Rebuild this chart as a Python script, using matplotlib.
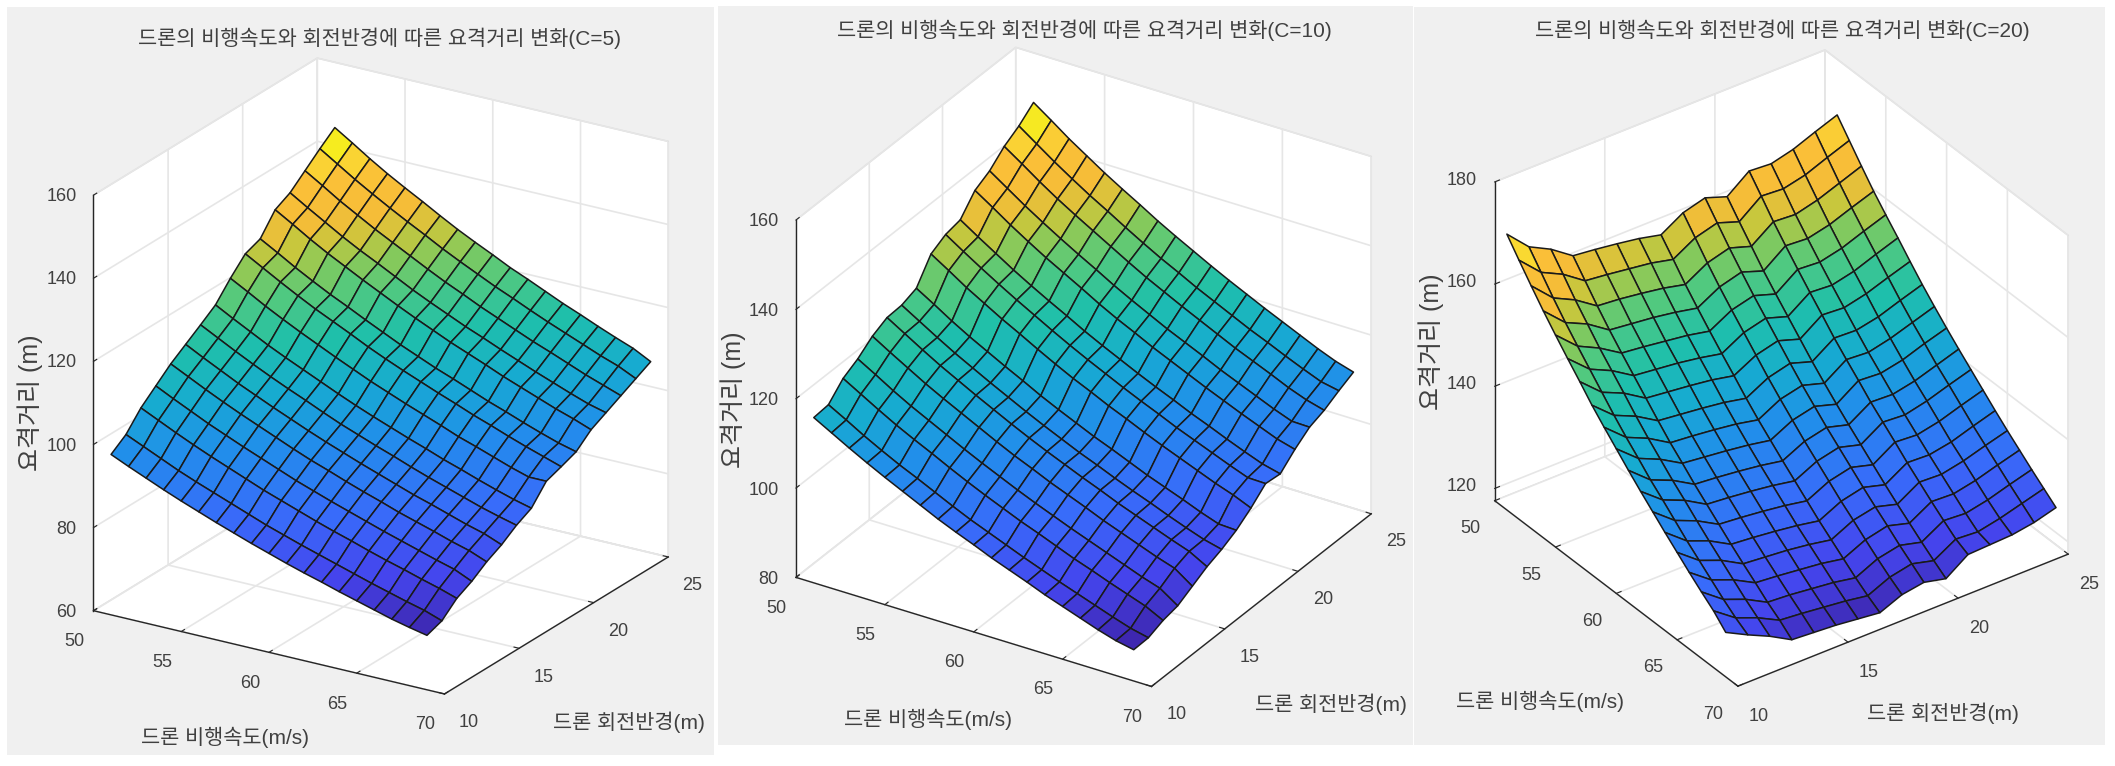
import numpy as np
import matplotlib
matplotlib.use("Agg")
import matplotlib.pyplot as plt
from matplotlib.colors import LinearSegmentedColormap
from matplotlib.patches import Rectangle
from mpl_toolkits.mplot3d import proj3d

plt.rcParams['font.family'] = ['Liberation Sans', 'Noto Sans CJK KR']

W, H = 2115, 766

speed = [51, 52, 53, 54, 55, 56, 57, 58, 59, 60, 61, 62, 63, 64, 65, 66, 67, 68, 69]
radius = [10, 11, 12, 13, 14, 15, 16, 17, 18, 19, 20, 21, 22, 23, 24, 25]
speed_ticks = [50, 55, 60, 65, 70]
radius_ticks = [10, 15, 20, 25]

# rows = speed, columns = radius
z_c5 = [
    [98.6, 101.2, 105.4, 108.5, 111.6, 114.1, 116.6, 119.2, 123.4, 127.1, 128.5, 133.3, 135.2, 138.3, 141.4, 144.3],
    [96.7, 99.3, 103.4, 106.4, 109.5, 111.9, 114.4, 116.9, 121.1, 124.7, 126.1, 130.8, 132.6, 135.7, 138.7, 141.6],
    [94.9, 97.4, 101.4, 104.4, 107.4, 109.8, 112.2, 114.7, 118.7, 122.3, 123.6, 128.2, 130.1, 133.0, 136.0, 138.8],
    [93.1, 95.5, 99.5, 102.4, 105.4, 107.7, 110.1, 112.5, 116.5, 120.0, 121.3, 125.8, 127.6, 130.6, 133.5, 136.2],
    [91.4, 93.8, 97.7, 100.6, 103.5, 105.8, 108.1, 110.5, 114.4, 117.8, 119.1, 123.6, 125.3, 128.2, 131.1, 133.8],
    [89.8, 92.2, 96.0, 98.8, 101.7, 103.9, 106.2, 108.6, 112.4, 115.8, 117.1, 121.4, 123.2, 126.0, 128.8, 131.5],
    [88.2, 90.6, 94.3, 97.1, 99.9, 102.1, 104.4, 106.7, 110.4, 113.8, 115.0, 119.3, 121.0, 123.8, 126.6, 129.1],
    [86.7, 89.0, 92.6, 95.4, 98.1, 100.3, 102.5, 104.8, 108.5, 111.7, 113.0, 117.2, 118.8, 121.6, 124.3, 126.8],
    [85.2, 87.4, 91.1, 93.7, 96.4, 98.6, 100.7, 103.0, 106.6, 109.8, 111.0, 115.2, 116.8, 119.5, 122.2, 124.7],
    [83.8, 86.0, 89.6, 92.2, 94.9, 97.0, 99.1, 101.3, 104.9, 108.0, 109.2, 113.3, 114.9, 117.6, 120.2, 122.7],
    [82.4, 84.6, 88.1, 90.7, 93.3, 95.4, 97.5, 99.7, 103.2, 106.3, 107.4, 111.4, 113.0, 115.6, 118.2, 120.6],
    [81.1, 83.3, 86.7, 89.3, 91.8, 93.9, 96.0, 98.1, 101.6, 104.6, 105.8, 109.7, 111.3, 113.8, 116.4, 118.8],
    [79.9, 82.0, 85.4, 87.9, 90.4, 92.4, 94.4, 96.6, 100.0, 103.0, 104.1, 108.0, 109.5, 112.0, 114.5, 116.9],
    [78.6, 80.7, 84.0, 86.5, 88.9, 90.9, 92.9, 95.0, 98.3, 101.3, 102.4, 106.2, 107.8, 110.2, 112.7, 115.0],
    [77.4, 79.4, 82.7, 85.2, 87.6, 89.6, 91.5, 93.6, 96.9, 99.8, 100.9, 104.6, 106.1, 108.6, 111.0, 113.3],
    [76.2, 78.2, 81.5, 83.9, 86.3, 88.2, 90.1, 92.1, 95.4, 98.2, 99.3, 103.0, 104.5, 106.9, 109.3, 111.5],
    [75.0, 77.0, 80.2, 82.6, 84.9, 86.8, 88.7, 90.7, 93.9, 96.7, 97.8, 101.4, 102.9, 105.2, 107.6, 109.8],
    [74.0, 75.9, 79.0, 81.4, 83.7, 85.6, 87.5, 89.4, 92.6, 95.3, 96.4, 100.0, 101.4, 103.7, 106.1, 108.2],
    [73.1, 74.4, 77.6, 79.5, 82.0, 83.9, 86.4, 88.3, 92.6, 93.9, 95.3, 98.4, 100.3, 102.2, 104.1, 106.0],
]

z_c10 = [
    [117.0, 117.3, 120.6, 122.4, 124.9, 126.5, 126.7, 127.9, 133.0, 134.8, 135.5, 139.5, 141.3, 144.2, 146.2, 148.9],
    [114.8, 115.1, 118.3, 120.1, 122.5, 124.1, 124.3, 125.5, 130.5, 132.2, 132.9, 136.9, 138.6, 141.5, 143.4, 146.1],
    [112.6, 112.8, 116.0, 117.7, 120.2, 121.7, 121.9, 123.0, 127.9, 129.7, 130.4, 134.2, 135.9, 138.7, 140.6, 143.2],
    [110.5, 110.7, 113.8, 115.5, 117.9, 119.4, 119.6, 120.7, 125.6, 127.3, 127.9, 131.7, 133.4, 136.1, 138.0, 140.6],
    [108.5, 108.7, 111.8, 113.5, 115.8, 117.3, 117.5, 118.6, 123.3, 125.0, 125.6, 129.3, 131.0, 133.7, 135.5, 138.0],
    [106.6, 106.9, 109.9, 111.5, 113.8, 115.2, 115.4, 116.5, 121.2, 122.8, 123.4, 127.1, 128.7, 131.4, 133.2, 135.6],
    [104.7, 105.0, 107.9, 109.5, 111.8, 113.2, 113.4, 114.5, 119.0, 120.6, 121.3, 124.9, 126.5, 129.1, 130.8, 133.3],
    [102.8, 103.1, 106.0, 107.6, 109.8, 111.2, 111.4, 112.4, 116.9, 118.5, 119.1, 122.6, 124.2, 126.8, 128.5, 130.9],
    [101.1, 101.3, 104.2, 105.8, 107.9, 109.3, 109.5, 110.5, 114.9, 116.5, 117.1, 120.5, 122.1, 124.6, 126.3, 128.7],
    [99.5, 99.7, 102.5, 104.0, 106.2, 107.5, 107.7, 108.7, 113.1, 114.6, 115.2, 118.6, 120.1, 122.6, 124.3, 126.6],
    [97.8, 98.1, 100.8, 102.3, 104.4, 105.8, 105.9, 106.9, 111.2, 112.7, 113.3, 116.6, 118.1, 120.6, 122.2, 124.5],
    [96.3, 96.5, 99.3, 100.7, 102.8, 104.1, 104.3, 105.3, 109.5, 110.9, 111.5, 114.8, 116.3, 118.7, 120.3, 122.5],
    [94.8, 95.0, 97.7, 99.1, 101.2, 102.5, 102.6, 103.6, 107.7, 109.2, 109.8, 113.0, 114.5, 116.8, 118.4, 120.6],
    [93.2, 93.5, 96.1, 97.6, 99.5, 100.8, 101.0, 101.9, 106.0, 107.4, 108.0, 111.2, 112.6, 114.9, 116.5, 118.7],
    [91.8, 92.1, 94.7, 96.1, 98.0, 99.3, 99.5, 100.4, 104.4, 105.8, 106.4, 109.5, 110.9, 113.2, 114.8, 116.9],
    [90.4, 90.7, 93.2, 94.6, 96.5, 97.8, 97.9, 98.9, 102.8, 104.2, 104.7, 107.8, 109.2, 111.5, 113.0, 115.1],
    [89.0, 89.3, 91.8, 93.1, 95.0, 96.3, 96.4, 97.3, 101.2, 102.6, 103.1, 106.2, 107.5, 109.7, 111.3, 113.3],
    [87.8, 88.0, 90.4, 91.8, 93.7, 94.9, 95.0, 95.9, 99.8, 101.1, 101.6, 104.6, 106.0, 108.2, 109.7, 111.7],
    [87.0, 87.1, 88.4, 89.1, 90.9, 92.7, 94.0, 95.7, 98.1, 101.0, 100.6, 103.5, 105.9, 107.1, 108.9, 110.5],
]

z_c20 = [
    [171.6, 167.4, 165.2, 162.2, 161.7, 161.1, 160.4, 159.4, 162.0, 163.2, 161.7, 165.0, 164.7, 165.8, 167.5, 169.1],
    [168.3, 164.2, 162.1, 159.1, 158.6, 158.0, 157.4, 156.4, 158.9, 160.1, 158.6, 161.9, 161.6, 162.6, 164.3, 165.9],
    [165.1, 161.0, 158.9, 156.0, 155.6, 155.0, 154.3, 153.3, 155.8, 157.0, 155.6, 158.7, 158.4, 159.5, 161.1, 162.7],
    [162.0, 158.0, 156.0, 153.1, 152.6, 152.1, 151.4, 150.5, 152.9, 154.1, 152.6, 155.8, 155.5, 156.5, 158.1, 159.6],
    [159.1, 155.2, 153.1, 150.4, 149.9, 149.3, 148.7, 147.8, 150.2, 151.3, 149.9, 153.0, 152.7, 153.7, 155.3, 156.8],
    [156.3, 152.5, 150.5, 147.8, 147.3, 146.8, 146.1, 145.2, 147.6, 148.7, 147.3, 150.3, 150.0, 151.0, 152.6, 154.1],
    [153.6, 149.8, 147.9, 145.2, 144.7, 144.2, 143.6, 142.7, 145.0, 146.1, 144.7, 147.7, 147.4, 148.4, 149.9, 151.3],
    [150.8, 147.1, 145.2, 142.6, 142.1, 141.6, 141.0, 140.1, 142.4, 143.5, 142.1, 145.0, 144.8, 145.7, 147.2, 148.6],
    [148.3, 144.6, 142.7, 140.1, 139.7, 139.2, 138.6, 137.7, 140.0, 141.0, 139.7, 142.6, 142.3, 143.3, 144.7, 146.1],
    [145.9, 142.3, 140.4, 137.9, 137.4, 136.9, 136.3, 135.5, 137.7, 138.7, 137.4, 140.3, 140.0, 140.9, 142.4, 143.7],
    [143.5, 139.9, 138.1, 135.6, 135.2, 134.7, 134.1, 133.3, 135.4, 136.4, 135.2, 137.9, 137.7, 138.6, 140.0, 141.4],
    [141.2, 137.8, 136.0, 133.5, 133.1, 132.6, 132.0, 131.2, 133.3, 134.3, 133.1, 135.8, 135.5, 136.5, 137.9, 139.2],
    [139.0, 135.6, 133.8, 131.4, 131.0, 130.5, 129.9, 129.1, 131.2, 132.2, 131.0, 133.7, 133.4, 134.3, 135.7, 137.0],
    [136.8, 133.4, 131.7, 129.3, 128.9, 128.4, 127.8, 127.0, 129.1, 130.1, 128.9, 131.5, 131.3, 132.1, 133.5, 134.8],
    [134.7, 131.4, 129.7, 127.3, 126.9, 126.5, 125.9, 125.1, 127.2, 128.1, 126.9, 129.5, 129.3, 130.2, 131.5, 132.7],
    [132.6, 129.4, 127.7, 125.4, 125.0, 124.5, 124.0, 123.2, 125.2, 126.2, 125.0, 127.5, 127.3, 128.2, 129.5, 130.7],
    [130.6, 127.4, 125.7, 123.4, 123.1, 122.6, 122.1, 121.3, 123.3, 124.2, 123.1, 125.6, 125.3, 126.2, 127.5, 128.7],
    [128.7, 125.6, 123.9, 121.7, 121.3, 120.8, 120.3, 119.6, 121.5, 122.4, 121.3, 123.8, 123.5, 124.4, 125.6, 126.8],
    [126.3, 124.1, 122.1, 119.7, 119.4, 119.1, 118.6, 118.1, 119.9, 120.6, 119.6, 122.6, 122.8, 123.0, 123.7, 124.9],
]

titles = ['드론의 비행속도와 회전반경에 따른 요격거리 변화(C=5)',
          '드론의 비행속도와 회전반경에 따른 요격거리 변화(C=10)',
          '드론의 비행속도와 회전반경에 따른 요격거리 변화(C=20)']

parula = LinearSegmentedColormap.from_list('parula', [
    (0.0, (0.24, 0.15, 0.68)), (0.1, (0.27, 0.27, 0.93)), (0.22, (0.22, 0.42, 0.98)),
    (0.36, (0.13, 0.56, 0.92)), (0.46, (0.09, 0.67, 0.82)), (0.56, (0.12, 0.75, 0.67)),
    (0.66, (0.33, 0.79, 0.49)), (0.71, (0.52, 0.79, 0.36)), (0.76, (0.78, 0.78, 0.24)),
    (0.81, (0.96, 0.74, 0.22)), (0.88, (0.98, 0.75, 0.22)), (0.93, (0.98, 0.84, 0.20)),
    (0.97, (0.96, 0.95, 0.10)), (1.0, (0.96, 0.97, 0.08))])

TEXT = '#404040'


def put_text(fig, x, y, s, **kw):
    fig.text(x / W, 1 - y / H, s, ha='center', va='center', color=TEXT, **kw)


def fit_box(fig, ax, lims, corner, span):
    # resize and shift the square axes so the floor corner lands on the given pixel
    def corner_px():
        fig.canvas.draw()
        xs, ys, _ = proj3d.proj_transform(np.array([lims[0], lims[1]]), np.array([lims[2], lims[2]]),
                                          np.array([lims[4], lims[4]]), ax.get_proj())
        return ax.transData.transform(np.column_stack([xs, ys]))
    p = corner_px()
    side = 700 * span / (p[1, 0] - p[0, 0])
    ax.set_position([0.2, 0.2, side / W, side / H])
    p = corner_px()
    dx = corner[0] - p[0, 0]
    dy = (H - corner[1]) - p[0, 1]
    box = ax.get_position()
    ax.set_position([box.x0 + dx / W, box.y0 + dy / H, side / W, side / H])


fig = plt.figure(figsize=(W / 100, H / 100), dpi=100, facecolor='white')

for rect in [(7, 7, 707, 748), (718, 6, 695, 739), (1414, 7, 691, 738)]:
    fig.patches.append(Rectangle((rect[0] / W, 1 - (rect[1] + rect[3]) / H), rect[2] / W, rect[3] / H,
                                 transform=fig.transFigure, facecolor='#f0f0f0', edgecolor='none', zorder=-1))

panels = [
    dict(z=z_c5, zlim=(60, 160), zticks=[60, 80, 100, 120, 140, 160], elev=22.4, azim=-58.1,
         aspect=(413, 423, 449), corner=(93.5, 610.7), span=351),
    dict(z=z_c10, zlim=(80, 160), zticks=[80, 100, 120, 140, 160], elev=29.4, azim=-58.0,
         aspect=(419, 414.5, 410), corner=(796, 577.4), span=355.5),
    dict(z=z_c20, zlim=(117.6, 180), zticks=[120, 140, 160, 180], elev=33.5, azim=-35.9,
         aspect=(415, 408, 382.5), corner=(1494.7, 500.7), span=243.2),
]

speed_grid, radius_grid = np.meshgrid(speed, radius, indexing='ij')

for p in panels:
    ax = fig.add_axes([0.2, 0.2, 700 / W, 700 / H], projection='3d', proj_type='ortho')
    ax.patch.set_visible(False)
    z = np.array(p['z'])
    ax.plot_surface(speed_grid, radius_grid, z, rstride=1, cstride=1, cmap=parula,
                    vmin=z.min(), vmax=z.max(), edgecolor='#1a1a1a', linewidth=1.1, shade=False)
    ax.view_init(elev=p['elev'], azim=p['azim'])
    ax.set_box_aspect(p['aspect'])
    ax.set_xlim(50, 70, view_margin=0)
    ax.set_ylim(10, 25, view_margin=0)
    ax.set_zlim(p['zlim'][0], p['zlim'][1], view_margin=0)
    ax.set_xticks(speed_ticks)
    ax.set_yticks(radius_ticks)
    ax.set_zticks(p['zticks'])
    ax.zaxis.set_ticks_position('lower')
    for axis in (ax.xaxis, ax.yaxis, ax.zaxis):
        axis.set_pane_color('white')
        axis.pane.set_edgecolor('#d8d8d8')
        axis.line.set_color('#262626')
        axis.line.set_linewidth(1.0)
        axis._axinfo['grid'].update(color='#e6e6e6', linewidth=1.2)
        axis._axinfo['tick'].update(inward_factor=0.0, outward_factor=0.18)
    ax.tick_params(axis='both', labelsize=13, labelcolor=TEXT, color='#262626')
    ax.tick_params(axis='x', pad=3)
    ax.tick_params(axis='y', pad=3)
    ax.tick_params(axis='z', pad=0)
    for lab in ax.get_xticklabels():
        lab.set_ha('right')
    for lab in ax.get_yticklabels():
        lab.set_ha('left')
    for lab in ax.get_zticklabels():
        lab.set_ha('right')
        lab.set_va('center')
    fit_box(fig, ax, (50, 70, 10, 25, p['zlim'][0], p['zlim'][1]), p['corner'], p['span'])

put_text(fig, 380, 38, titles[0], fontsize=15)
put_text(fig, 1084, 30, titles[1], fontsize=15)
put_text(fig, 1782, 30, titles[2], fontsize=15)

put_text(fig, 225, 737, '드론 비행속도(m/s)', fontsize=15)
put_text(fig, 629, 722, '드론 회전반경(m)', fontsize=15)
put_text(fig, 30, 403, '요격거리 (m)', fontsize=18, rotation=90)

put_text(fig, 928, 719, '드론 비행속도(m/s)', fontsize=15)
put_text(fig, 1331, 704, '드론 회전반경(m)', fontsize=15)
put_text(fig, 733, 400, '요격거리 (m)', fontsize=18, rotation=90)

put_text(fig, 1540, 701, '드론 비행속도(m/s)', fontsize=15)
put_text(fig, 1943, 713, '드론 회전반경(m)', fontsize=15)
put_text(fig, 1431, 342, '요격거리 (m)', fontsize=18, rotation=90)

fig.savefig('out.png', dpi=100)
